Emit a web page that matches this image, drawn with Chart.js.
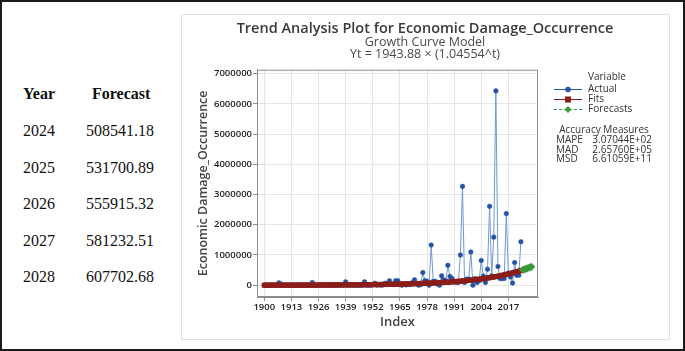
<!DOCTYPE html>
<html>
<head>
<meta charset="utf-8">
<script src="https://cdn.jsdelivr.net/npm/chart.js@4"></script>
<style>
  body { margin: 0; background: #fff; }
  #page { position: relative; width: 685px; height: 351px; box-sizing: border-box; border: 2px solid #1a1a1a; overflow: hidden; }
  .cell { position: absolute; font-family: "Liberation Serif", serif; font-size: 16px; line-height: 16px; color: #111; white-space: nowrap; }
  .head { font-weight: bold; }
  #panel { position: absolute; left: 179px; top: 12px; width: 489px; height: 326px; box-sizing: border-box; border: 1px solid #e2e2e2; }
  #chart { position: absolute; left: 180px; top: 13px; }
</style>
</head>
<body>
<div id="page">
  <div id="table"></div>
  <div id="panel"></div>
  <canvas id="chart" width="486" height="323"></canvas>
</div>
<script>
"use strict";

// forecast table
const forecastYears = [2024, 2025, 2026, 2027, 2028];
const forecastValues = [508541.18, 531700.89, 555915.32, 581232.51, 607702.68];

// actual series 1900..2023
const actualYears = [];
for (let y = 1900; y <= 2023; y++) actualYears.push(y);
const actualValues = [
  0, 0, 0, 0, 0, 0, 0, 80000, 40000, 0,
  0, 0, 0, 0, 0, 0, 0, 0, 0, 0,
  0, 0, 0, 90000, 0, 0, 0, 0, 0, 0,
  0, 0, 0, 0, 0, 0, 0, 0, 0, 110000,
  0, 0, 0, 0, 0, 0, 0, 0, 110000, 0,
  0, 0, 10000, 65000, 0, 20000, 0, 10000, 65000, 20000,
  150000, 30000, 20000, 150000, 150000, 20000, 0, 40000, 10000, 40000,
  20000, 90000, 180000, 60000, 0, 20000, 420000, 150000, 130000, 0,
  1330000, 130000, 130000, 40000, 0, 310000, 180000, 150000, 660000, 290000,
  220000, 130000, 90000, 90000, 1000000, 3270000, 90000, 200000, 200000, 1100000,
  0, 220000, 90000, 150000, 820000, 300000, 90000, 530000, 2610000, 310000,
  1590000, 6430000, 620000, 220000, 220000, 220000, 2370000, 400000, 270000, 70000,
  750000, 330000, 330000, 1440000
];
// fitted trend 1900..2023
const fitValues = [
  2032, 2125, 2222, 2323, 2429, 2539, 2655, 2776, 2902, 3034,
  3172, 3317, 3469, 3626, 3792, 3963, 4144, 4333, 4530, 4736,
  4952, 5178, 5415, 5660, 5919, 6187, 6470, 6764, 7072, 7393,
  7730, 8083, 8453, 8835, 9240, 9658, 10100, 10559, 11039, 11540,
  12067, 12617, 13195, 13791, 14424, 15076, 15766, 16483, 17232, 18014,
  18836, 19695, 20597, 21528, 22516, 23533, 24611, 25730, 26899, 28120,
  29404, 30744, 32153, 33605, 35148, 36735, 38418, 40165, 41989, 43895,
  45899, 47991, 50191, 52458, 54866, 57343, 59970, 62697, 65546, 68521,
  71649, 74914, 78348, 81888, 85646, 89513, 93616, 97870, 102318, 106962,
  111845, 116942, 122302, 127825, 133694, 139731, 146137, 152777, 159721, 166969,
  174592, 182548, 190913, 199537, 208699, 218120, 228121, 238485, 249325, 260639,
  272539, 284959, 298015, 311479, 325780, 340487, 356098, 372278, 389199, 406860,
  425436, 444823, 465212, 486225
];

const xTicks = [1900, 1913, 1926, 1939, 1952, 1965, 1978, 1991, 2004, 2017];
const yTicks = [0, 1000000, 2000000, 3000000, 4000000, 5000000, 6000000, 7000000];

const legendNames = ["Actual", "Fits", "Forecasts"];
const measureNames = ["MAPE", "MAD", "MSD"];
const measureValues = ["3.07044E+02", "2.65760E+05", "6.61059E+11"];

// left table
const table = document.getElementById("table");
function addCell(text, left, top, bold) {
  const d = document.createElement("div");
  d.className = bold ? "cell head" : "cell";
  d.style.left = left + "px";
  d.style.top = top + "px";
  d.textContent = text;
  table.appendChild(d);
}
addCell("Year", 21, 84, true);
addCell("Forecast", 90, 84, true);
forecastYears.forEach((yr, i) => {
  const top = 121 + i * 36.5;
  addCell(String(yr), 21, top, false);
  addCell(forecastValues[i].toFixed(2), 84, top, false);
});

const blue = "#2453a3";
const blueLine = "#6f97d6";
const red = "#8b1e1a";
const green = "#3a9a3a";
const uiFont = "'Open Sans', 'DejaVu Sans', sans-serif";

function toPoints(xs, ys) {
  return xs.map((x, i) => ({ x: x, y: ys[i] }));
}

const legendPlugin = {
  id: "sideLegend",
  beforeDatasetsDraw(chart) {
    const ctx = chart.ctx;
    const a = chart.chartArea;
    ctx.save();
    ctx.strokeStyle = "#8c8c8c";
    ctx.lineWidth = 1;
    ctx.strokeRect(a.left + 0.5, a.top + 0.5, a.right - a.left - 1, a.bottom - a.top - 1);
    ctx.restore();
  },
  afterDraw(chart) {
    const ctx = chart.ctx;
    ctx.save();
    ctx.font = "10px " + uiFont;
    ctx.fillStyle = "#333";
    ctx.textBaseline = "middle";
    ctx.textAlign = "left";
    ctx.fillText("Variable", 406, 62);

    const rows = [74, 84, 94];
    rows.forEach((y, i) => {
      ctx.save();
      if (i === 0) { ctx.strokeStyle = blue; ctx.fillStyle = blue; }
      if (i === 1) { ctx.strokeStyle = red; ctx.fillStyle = red; }
      if (i === 2) { ctx.strokeStyle = green; ctx.fillStyle = green; ctx.setLineDash([3, 2]); }
      ctx.lineWidth = 1;
      ctx.beginPath();
      ctx.moveTo(372, y + 0.5);
      ctx.lineTo(400, y + 0.5);
      ctx.stroke();
      ctx.setLineDash([]);
      ctx.beginPath();
      if (i === 0) ctx.arc(386, y + 0.5, 2.8, 0, Math.PI * 2);
      if (i === 1) ctx.rect(383, y - 2.5, 6, 6);
      if (i === 2) { ctx.moveTo(386, y - 3); ctx.lineTo(389.5, y + 0.5); ctx.lineTo(386, y + 4); ctx.lineTo(382.5, y + 0.5); ctx.closePath(); }
      ctx.fill();
      ctx.restore();
      ctx.fillText(legendNames[i], 406, y);
    });

    ctx.textAlign = "center";
    ctx.fillText("Accuracy Measures", 422, 115);
    measureNames.forEach((name, i) => {
      const y = 125 + i * 9.7;
      ctx.textAlign = "left";
      ctx.fillText(name, 374, y);
      ctx.textAlign = "right";
      ctx.fillText(measureValues[i], 470, y);
    });
    ctx.restore();
  }
};

new Chart(document.getElementById("chart"), {
  type: "line",
  data: {
    datasets: [
      {
        label: "Fits",
        data: toPoints(actualYears, fitValues),
        borderColor: red,
        backgroundColor: red,
        borderWidth: 2,
        pointStyle: "rect",
        pointRadius: 3,
        pointBorderWidth: 1,
        order: 1,
      },
      {
        label: "Actual",
        data: toPoints(actualYears, actualValues),
        borderColor: blueLine,
        backgroundColor: blue,
        pointBorderColor: blue,
        borderWidth: 1,
        pointRadius: 2.3,
        pointBorderWidth: 0.5,
        order: 2,
      },
      {
        label: "Forecasts",
        data: toPoints(forecastYears, forecastValues),
        borderColor: green,
        backgroundColor: green,
        borderWidth: 1.5,
        borderDash: [3, 2],
        pointStyle: "rectRot",
        pointRadius: 3,
        order: 0,
      },
    ],
  },
  options: {
    responsive: false,
    animation: false,
    devicePixelRatio: 1,
    layout: { padding: 0 },
    plugins: {
      legend: { display: false },
      tooltip: { enabled: false },
      title: {
        display: true,
        text: "Trend Analysis Plot for Economic Damage_Occurrence",
        color: "#3a3a3a",
        font: { family: uiFont, size: 14.5, weight: "600", lineHeight: 1 },
        padding: { top: 7, bottom: 0 },
      },
      subtitle: {
        display: true,
        text: ["Growth Curve Model", "Yt = 1943.88 \u00d7 (1.04554^t)"],
        color: "#4a4a4a",
        font: { family: uiFont, size: 12.5, lineHeight: 0.97 },
        padding: { top: 0, bottom: 9 },
      },
    },
    scales: {
      x: {
        type: "linear",
        min: 1896.5,
        max: 2031.2,
        afterBuildTicks: (axis) => { axis.ticks = xTicks.map((v) => ({ value: v })); },
        afterFit: (axis) => { axis.height = 41; },
        grid: { color: "#e6e6e6", tickColor: "#8c8c8c", tickLength: 4 },
        border: { color: "#8c8c8c" },
        ticks: {
          padding: 1,
          color: "#222",
          maxRotation: 0,
          autoSkip: false,
          font: { family: uiFont, size: 9.5, weight: "600" },
          callback: (v) => String(v),
        },
        title: {
          display: true,
          text: "Index",
          color: "#444",
          font: { family: uiFont, size: 13, weight: "600" },
          padding: { top: 0, bottom: 8 },
        },
      },
      y: {
        min: -390000,
        max: 7130000,
        afterBuildTicks: (axis) => { axis.ticks = yTicks.map((v) => ({ value: v })); },
        afterFit: (axis) => { axis.width = 75; },
        grid: { color: "#e6e6e6", tickColor: "#8c8c8c", tickLength: 4 },
        border: { color: "#8c8c8c" },
        ticks: {
          padding: 1,
          color: "#222",
          font: { family: uiFont, size: 9.5, weight: "600" },
          callback: (v) => String(v),
        },
        title: {
          display: true,
          text: "Economic Damage_Occurrence",
          color: "#444",
          font: { family: uiFont, size: 12.5, weight: "600" },
          padding: { top: 14, bottom: 0 },
        },
      },
      // empty right-side room for the legend
      side: {
        position: "right",
        min: 0,
        max: 1,
        afterFit: (axis) => { axis.width = 130; },
        grid: { display: false },
        border: { display: false },
        ticks: { display: false },
      },
    },
  },
  plugins: [legendPlugin],
});
</script>
</body>
</html>
